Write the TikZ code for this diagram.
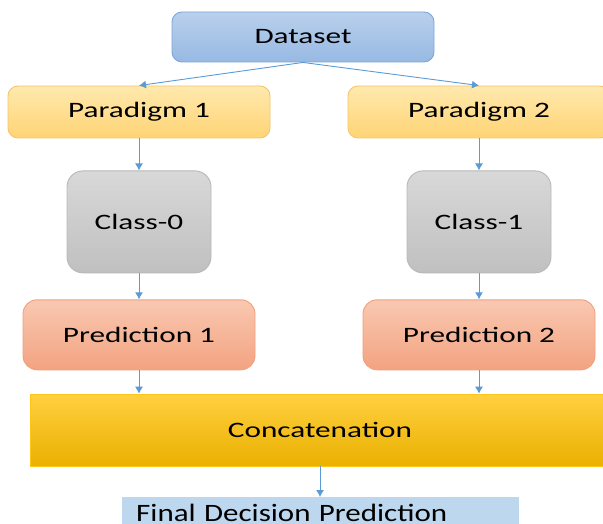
\documentclass[tikz,border=0pt]{standalone}
\usepackage{fontspec}
\setmainfont{Carlito}[FakeStretch=1.42]
\newfontfamily\finalfont{Carlito}[FakeStretch=1.24]
\usepackage{tikz}
\usetikzlibrary{arrows.meta,positioning,shadings}
\definecolor{dstop}{HTML}{B9D0EC}
\definecolor{dsbot}{HTML}{97B9E3}
\definecolor{dsedge}{HTML}{7DA6D8}
\definecolor{paratop}{HTML}{FFE9AE}
\definecolor{parabot}{HTML}{FFD474}
\definecolor{paraedge}{HTML}{F5C46C}
\definecolor{clstop}{HTML}{D8D8D8}
\definecolor{clsbot}{HTML}{C0C0C0}
\definecolor{clsedge}{HTML}{B8B8B8}
\definecolor{predtop}{HTML}{F9C8B1}
\definecolor{predbot}{HTML}{F3A381}
\definecolor{prededge}{HTML}{F1A07D}
\definecolor{concatgold}{HTML}{FFC000}
\definecolor{finalblue}{HTML}{BDD7EE}
\definecolor{flowblue}{HTML}{5B9BD5}
\begin{document}
\begin{tikzpicture}[x=1pt, y=-1pt, node distance=26pt and 10pt,
  every node/.style={font=\fontsize{22}{25}\selectfont, text=black},
  box/.style={draw, line width=0.9pt, rounded corners=10pt, minimum width=262pt, minimum height=52pt},
  flow/.style={draw=flowblue, line width=0.9pt, -{Latex[length=7pt, width=8pt]}}]
  \clip (0,0) rectangle (603,524);
  \node[box, draw=dsedge, top color=dstop, bottom color=dsbot, minimum height=50pt] (data) at (303,37) {Dataset};
  \node[box, draw=paraedge, top color=paratop, bottom color=parabot] (par1) at (139,112) {Paradigm 1};
  \node[box, draw=paraedge, top color=paratop, bottom color=parabot] (par2) at (479,112) {Paradigm 2};
  \node[box, draw=clsedge, top color=clstop, bottom color=clsbot, rounded corners=16pt, minimum width=144pt, minimum height=102pt, below=32pt of par1] (cls0) {Class-0};
  \node[box, draw=clsedge, top color=clstop, bottom color=clsbot, rounded corners=16pt, minimum width=144pt, minimum height=102pt, below=32pt of par2] (cls1) {Class-1};
  \node[box, draw=prededge, top color=predtop, bottom color=predbot, rounded corners=14pt, minimum width=232pt, minimum height=70pt, below=of cls0] (pred1) {Prediction 1};
  \node[box, draw=prededge, top color=predtop, bottom color=predbot, rounded corners=14pt, minimum width=232pt, minimum height=70pt, below=of cls1] (pred2) {Prediction 2};
  \node[draw=concatgold!90, line width=0.6pt, top color=concatgold!75!white, middle color=concatgold, bottom color=concatgold!92!black, minimum width=580pt, minimum height=72pt] (concat) at (320,430) {Concatenation};
  \node[fill=finalblue, anchor=north west, minimum width=397pt, minimum height=32pt, text width=369pt, align=left, inner xsep=14pt, inner ysep=2pt, font=\finalfont\fontsize{25}{28}\selectfont] (final) at (122,497) {Final Decision Prediction};
  \fill[finalblue] (final.south west) rectangle ([yshift=-10pt]final.south east);
  \draw[flow] (data.south) -- (par1.north);
  \draw[flow] (data.south) -- (par2.north);
  \draw[flow] (par1) -- (cls0);
  \draw[flow] (par2) -- (cls1);
  \draw[flow] (cls0) -- (pred1);
  \draw[flow] (cls1) -- (pred2);
  \draw[flow] (pred1.south) -- (pred1.south |- concat.north);
  \draw[flow] (pred2.south) -- (pred2.south |- concat.north);
  \draw[flow] (concat.south) -- (concat.south |- final.north);
\end{tikzpicture}
\end{document}
